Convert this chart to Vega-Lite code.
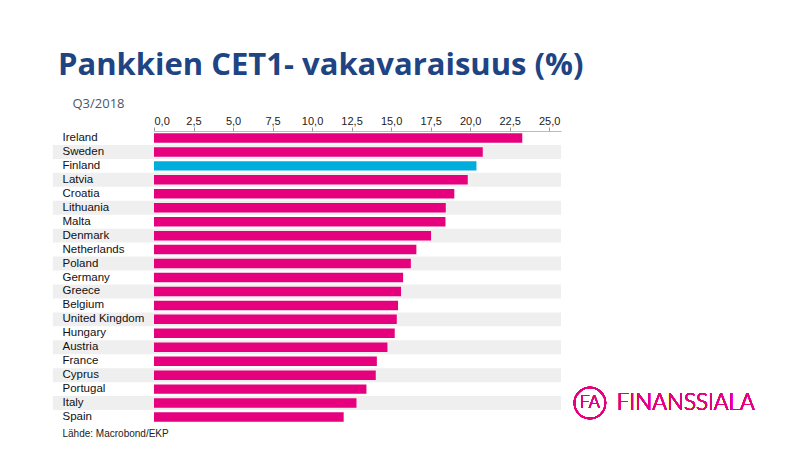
{
  "$schema": "https://vega.github.io/schema/vega-lite/v6.json",
  "width": 407,
  "height": 293,
  "autosize": "none",
  "padding": {"left": 154, "top": 131, "right": 239, "bottom": 26},
  "background": "white",
  "title": {
    "text": "Pankkien CET1- vakavaraisuus (%)",
    "anchor": "start",
    "frame": "group",
    "dx": -96,
    "font": "Open Sans",
    "fontSize": 31,
    "fontWeight": "bold",
    "color": "#1E4483",
    "offset": 15
  },
  "data": {
    "values": [
      {"country": "Ireland", "value": 23.3},
      {"country": "Sweden", "value": 20.8},
      {"country": "Finland", "value": 20.4},
      {"country": "Latvia", "value": 19.85},
      {"country": "Croatia", "value": 19.0},
      {"country": "Lithuania", "value": 18.46},
      {"country": "Malta", "value": 18.44},
      {"country": "Denmark", "value": 17.53},
      {"country": "Netherlands", "value": 16.6},
      {"country": "Poland", "value": 16.25},
      {"country": "Germany", "value": 15.76},
      {"country": "Greece", "value": 15.63},
      {"country": "Belgium", "value": 15.44},
      {"country": "United Kingdom", "value": 15.36},
      {"country": "Hungary", "value": 15.23},
      {"country": "Austria", "value": 14.77},
      {"country": "France", "value": 14.1},
      {"country": "Cyprus", "value": 14.03},
      {"country": "Portugal", "value": 13.44},
      {"country": "Italy", "value": 12.81},
      {"country": "Spain", "value": 12.0}
    ]
  },
  "layer": [
    {
      "transform": [
        {"window": [{"op": "row_number", "as": "rn"}]},
        {"filter": "datum.rn % 2 == 0"}
      ],
      "mark": {"type": "rect", "color": "#EFEFEF"},
      "encoding": {
        "y": {
          "field": "country", "type": "nominal",
          "scale": {
            "domain": ["Ireland", "Sweden", "Finland", "Latvia", "Croatia", "Lithuania", "Malta", "Denmark", "Netherlands", "Poland", "Germany", "Greece", "Belgium", "United Kingdom", "Hungary", "Austria", "France", "Cyprus", "Portugal", "Italy", "Spain"],
            "paddingInner": 0, "paddingOuter": 0
          },
          "axis": {
            "title": "Lähde: Macrobond/EKP",
            "titleAngle": 0,
            "titleX": -92,
            "titleY": 305,
            "titleAlign": "left",
            "titleBaseline": "alphabetic",
            "titleFont": "Liberation Sans",
            "titleFontSize": 10,
            "titleFontWeight": "normal",
            "titleColor": "#222222",
            "labelAlign": "left",
            "labelPadding": 92,
            "labelFont": "Liberation Sans",
            "labelFontSize": 11.5,
            "labelColor": "#111111",
            "ticks": false,
            "domain": false
          }
        },
        "x": {"datum": -6.4, "type": "quantitative"},
        "x2": {"datum": 25.75}
      }
    },
    {
      "mark": {"type": "bar", "height": {"band": 0.68}},
      "encoding": {
        "y": {"field": "country", "type": "nominal"},
        "x": {
          "field": "value", "type": "quantitative",
          "scale": {"domain": [0, 25.75], "nice": false, "zero": true},
          "axis": {
            "orient": "top",
            "values": [0, 2.5, 5, 7.5, 10, 12.5, 15, 17.5, 20, 22.5, 25],
            "labelExpr": "replace(format(datum.value, '.1f'), '.', ',')",
            "labelFont": "Liberation Sans",
            "labelFontSize": 11,
            "labelColor": "#222222",
            "labelPadding": 1,
            "tickColor": "#999999",
            "tickSize": 4,
            "domainColor": "#BBBBBB",
            "grid": false,
            "title": "Q3/2018",
            "titleX": -82,
            "titleY": -24,
            "titleAlign": "left",
            "titleBaseline": "alphabetic",
            "titleFont": "Open Sans",
            "titleFontSize": 13,
            "titleFontWeight": "normal",
            "titleColor": "#4A5868"
          }
        },
        "color": {
          "condition": {"test": "datum.country === 'Finland'", "value": "#00AEDD"},
          "value": "#E6007E"
        }
      }
    },
    {
      "mark": {"type": "point", "shape": "circle", "filled": false, "size": 960, "stroke": "#E6007E", "strokeWidth": 1.5},
      "encoding": {
        "x": {"datum": 27.58, "type": "quantitative"},
        "y": {"datum": "Italy", "type": "nominal"}
      }
    },
    {
      "mark": {"type": "text", "text": "FA", "font": "Lato", "fontSize": 17, "fontWeight": 300, "color": "#E6007E", "align": "center", "baseline": "middle"},
      "encoding": {
        "x": {"datum": 27.58, "type": "quantitative"},
        "y": {"datum": "Italy", "type": "nominal"}
      }
    },
    {
      "mark": {"type": "text", "text": "FINANSSIALA", "font": "Lato", "fontSize": 22.5, "fontWeight": 300, "color": "#E6007E", "align": "left", "baseline": "middle"},
      "encoding": {
        "x": {"datum": 29.27, "type": "quantitative"},
        "y": {"datum": "Italy", "type": "nominal"}
      }
    }
  ],
  "config": {"view": {"stroke": null}}
}
